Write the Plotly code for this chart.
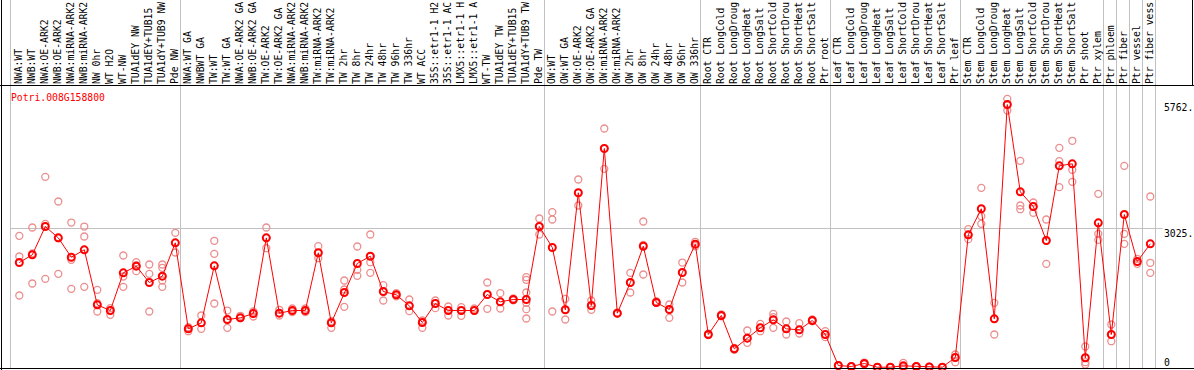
import plotly.graph_objects as go

gene_id = "Potri.008G158800"

# category labels as they appear in the chart header (cut to the visible 14 characters)
labels = [
    "NWA:WT", "NWB:WT", "NWA:OE-ARK2", "NWB:OE-ARK2", "NWA:miRNA-ARK2", "NWB:miRNA-ARK2",
    "NW 0hr", "WT H2O", "WT-NW", "TUA1dEY NW", "TUA1dEY+TUB15", "TUA1dY+TUB9 NW", "Pde NW",
    "NWA:WT GA", "NWBWT GA", "TW:WT", "TW:WT GA", "NWA:OE-ARK2 GA", "NWB:OE-ARK2 GA",
    "TW:OE-ARK2", "TW:OE-ARK2 GA", "NWA:miRNA-ARK2", "NWB:miRNA-ARK2", "TW:miRNA-ARK2",
    "TW:miRNA-ARK2", "TW 2hr", "TW 8hr", "TW 24hr", "TW 48hr", "TW 96hr", "TW 336hr",
    "WT ACC", "35S::etr1-1 H2", "35S::etr1-1 AC", "LMX5::etr1-1 H", "LMX5::etr1-1 A",
    "WT-TW", "TUA1dEY TW", "TUA1dEY+TUB15", "TUA1dY+TUB9 TW", "Pde TW",
    "OW:WT", "OW:WT GA", "OW:OE-ARK2", "OW:OE-ARK2 GA", "OW:miRNA-ARK2", "OW:miRNA-ARK2",
    "OW 2hr", "OW 8hr", "OW 24hr", "OW 48hr", "OW 96hr", "OW 336hr",
    "Root CTR", "Root LongCold", "Root LongDroug", "Root LongHeat", "Root LongSalt",
    "Root ShortCold", "Root ShortDrou", "Root ShortHeat", "Root ShortSalt", "Ptr root",
    "Leaf CTR", "Leaf LongCold", "Leaf LongDroug", "Leaf LongHeat", "Leaf LongSalt",
    "Leaf ShortCold", "Leaf ShortDrou", "Leaf ShortHeat", "Leaf ShortSalt", "Ptr leaf",
    "Stem CTR", "Stem LongCold", "Stem LongDroug", "Stem LongHeat", "Stem LongSalt",
    "Stem ShortCold", "Stem ShortDrou", "Stem ShortHeat", "Stem ShortSalt", "Ptr shoot",
    "Ptr xylem", "Ptr phloem", "Ptr fiber", "Ptr vessel", "Ptr fiber vess",
]

means = [
    2283, 2451, 3068, 2821, 2399, 2560, 1360, 1236, 2058, 2203, 1847, 1985, 2713,
    837, 968, 2211, 1040, 1077, 1171, 2821, 1178, 1236, 1236, 2495, 968, 1629, 2262,
    2421, 1651, 1579, 1339, 975, 1389, 1236, 1236, 1236, 1586, 1426, 1477, 1477, 3068,
    2611, 1252, 3804, 1346, 4770, 1178, 1847, 2639, 1411, 1259, 2065, 2683,
    713, 1128, 401, 633, 859, 1033, 837, 815, 1019, 713,
    37, 15, 81, 0, 0, 30, 15, 7, 0, 212,
    2887, 3455, 1055, 5729, 3825, 3505, 2763, 4392, 4436, 205, 3149,
    713, 3330, 2305, 2691,
]

replicates = [
    [2865, 2414, 1564], [3047, 2481, 1825], [4152, 3125, 1927], [3614, 2813, 2036],
    [3155, 2342, 1709], [3068, 2851, 1753], [1687, 1396, 1215], [1287, 1236, 1142],
    [2436, 1978, 1753], [2290, 2225, 2094], [2240, 2036, 1215], [2240, 2168, 1985, 1891, 1753],
    [2931, 2713, 2502],
    [872, 837, 785], [1128, 968, 837], [2757, 2473, 1389], [1236, 1040, 859],
    [1121, 1077, 1070], [1215, 1171, 1106], [3047, 2821, 2595], [1252, 1178, 1128],
    [1280, 1236, 1200], [1280, 1236, 1200], [2639, 2495, 2377], [1003, 968, 859],
    [1891, 1695, 1317], [2632, 2124, 1993], [2894, 2290, 2058], [1788, 1651, 1455],
    [1615, 1579, 1546], [1477, 1339, 1222], [1019, 975, 859], [1455, 1389, 1287],
    [1324, 1236, 1128], [1310, 1236, 1120], [1280, 1236, 1236], [1847, 1586, 1274],
    [1615, 1426, 1280], [1500, 1477, 1460], [1963, 1905, 1629, 1404, 1266, 1062],
    [3243, 3068, 2894],
    [3381, 3221, 1215], [1491, 1252, 1040], [4094, 3804, 3527], [1455, 1346, 1252],
    [5206, 4777, 4327], [1190, 1178, 1165], [2058, 1847, 1629], [3178, 2668, 2022],
    [1404, 1411, 1440], [1368, 1259, 1077], [2283, 2065, 1847], [2735, 2683, 2639],
    [730, 713, 700], [1150, 1128, 1110], [401, 379, 420], [800, 633, 532], [946, 859, 785],
    [1164, 1092, 859], [997, 837, 713], [961, 815, 735], [1019, 1040, 1000], [785, 713, 655],
    [37, 30, 45], [15, 10, 20], [102, 81, 60], [0, 0, 0], [0, 0, 0], [95, 0, 0],
    [15, 10, 20], [7, 5, 10], [0, 0, 0], [277, 212, 109],
    [3010, 2887, 2792], [3912, 3293, 3127], [1404, 1055, 713], [5853, 5729, 5598],
    [4501, 3527, 3446], [3592, 3505, 3367], [3221, 2763, 2255], [4785, 4493, 3926],
    [4938, 4305, 4043], [451, 109, 58], [3781, 2909, 2778],
    [931, 713, 567], [4392, 2909, 2691], [2364, 2305, 2255], [3723, 2277, 2058],
]

group_sizes = [13, 28, 12, 10, 10, 11, 1, 1, 1, 1]

y_tick_values = [5762, 3025, 0]
y_tick_labels = ["5762.", "3025.", "0"]
grid_value = 3025

# ---------------------------------------------------------------
W, H = 1194, 370
TOP, BOTTOM = 85, 369
FONT = "DejaVu Sans Mono"
FS = 9.75
RED = "#ff0000"
PINK = "rgb(236,142,142)"
GRID = "#c0c0c0"

x_range = [-1.4846, -1.4846 + W / 13.0]
y_range = [-39.2, 6154.8]

idx = list(range(len(labels)))
rep_x = [i for i, r in enumerate(replicates) for _ in r]
rep_y = [v for r in replicates for v in r]

fig = go.Figure()
fig.add_trace(go.Scatter(
    x=rep_x, y=rep_y, mode="markers",
    marker=dict(symbol="circle-open", size=7, color=PINK, line=dict(width=1.3, color=PINK)),
    hoverinfo="skip", cliponaxis=False,
))
fig.add_trace(go.Scatter(
    x=idx, y=means, mode="lines+markers",
    line=dict(color=RED, width=1),
    marker=dict(symbol="circle-open", size=7, color=RED, line=dict(width=2, color=RED)),
    cliponaxis=False,
))


def py(p):
    """pixel row -> paper y"""
    return (BOTTOM - p) / (BOTTOM - TOP)


shapes = []
starts = [0]
for g in group_sizes:
    starts.append(starts[-1] + g)
for s in starts:
    xv = s - 0.6 if s > 0 else -0.68
    shapes.append(dict(type="line", xref="x", yref="paper", x0=xv, x1=xv,
                       y0=py(0), y1=py(BOTTOM), line=dict(color=GRID, width=1), layer="below"))
shapes.append(dict(type="line", xref="x", yref="y", x0=-0.68, x1=87.95,
                   y0=grid_value, y1=grid_value, line=dict(color=GRID, width=1), layer="below"))
BLK = dict(color="black", width=1)
shapes.append(dict(type="line", xref="paper", yref="paper", x0=1.5 / W, x1=1.5 / W,
                   y0=py(0), y1=py(H), line=BLK))
shapes.append(dict(type="line", xref="paper", yref="paper", x0=0, x1=1,
                   y0=py(TOP + 0.5), y1=py(TOP + 0.5), line=BLK))
shapes.append(dict(type="line", xref="paper", yref="paper", x0=0, x1=1,
                   y0=py(BOTTOM - 0.5), y1=py(BOTTOM - 0.5), line=BLK))
shapes.append(dict(type="line", xref="paper", yref="paper", x0=1192.5 / W, x1=1192.5 / W,
                   y0=py(0), y1=py(TOP), line=BLK))

annotations = [dict(
    text=gene_id, xref="paper", yref="paper", x=10 / W, y=py(97),
    xanchor="left", yanchor="middle", showarrow=False,
    font=dict(family=FONT, size=FS, color=RED), borderpad=0,
)]
for v, t in zip(y_tick_values, y_tick_labels):
    shift = 4.5 if v == 0 else -4.5
    annotations.append(dict(
        text=t, xref="paper", yref="y", x=1163 / W, y=v, yshift=shift,
        xanchor="left", yanchor="middle", showarrow=False,
        font=dict(family=FONT, size=FS, color="black"), borderpad=0,
    ))

fig.update_layout(
    width=W, height=H,
    margin=dict(l=0, r=0, t=TOP, b=H - BOTTOM, pad=0),
    paper_bgcolor="white", plot_bgcolor="white",
    showlegend=False,
    shapes=shapes, annotations=annotations,
    xaxis=dict(range=x_range, side="top", tickmode="array", tickvals=idx, ticktext=labels,
               tickangle=-90, tickfont=dict(family=FONT, size=FS, color="black"),
               showgrid=False, zeroline=False, showline=False, ticks="", automargin=False,
               fixedrange=True),
    yaxis=dict(range=y_range, visible=False, fixedrange=True),
)

fig.write_html(
    "out.html",
    config={"displayModeBar": False},
    post_script="document.body.style.margin='0';document.body.style.padding='0';",
)
